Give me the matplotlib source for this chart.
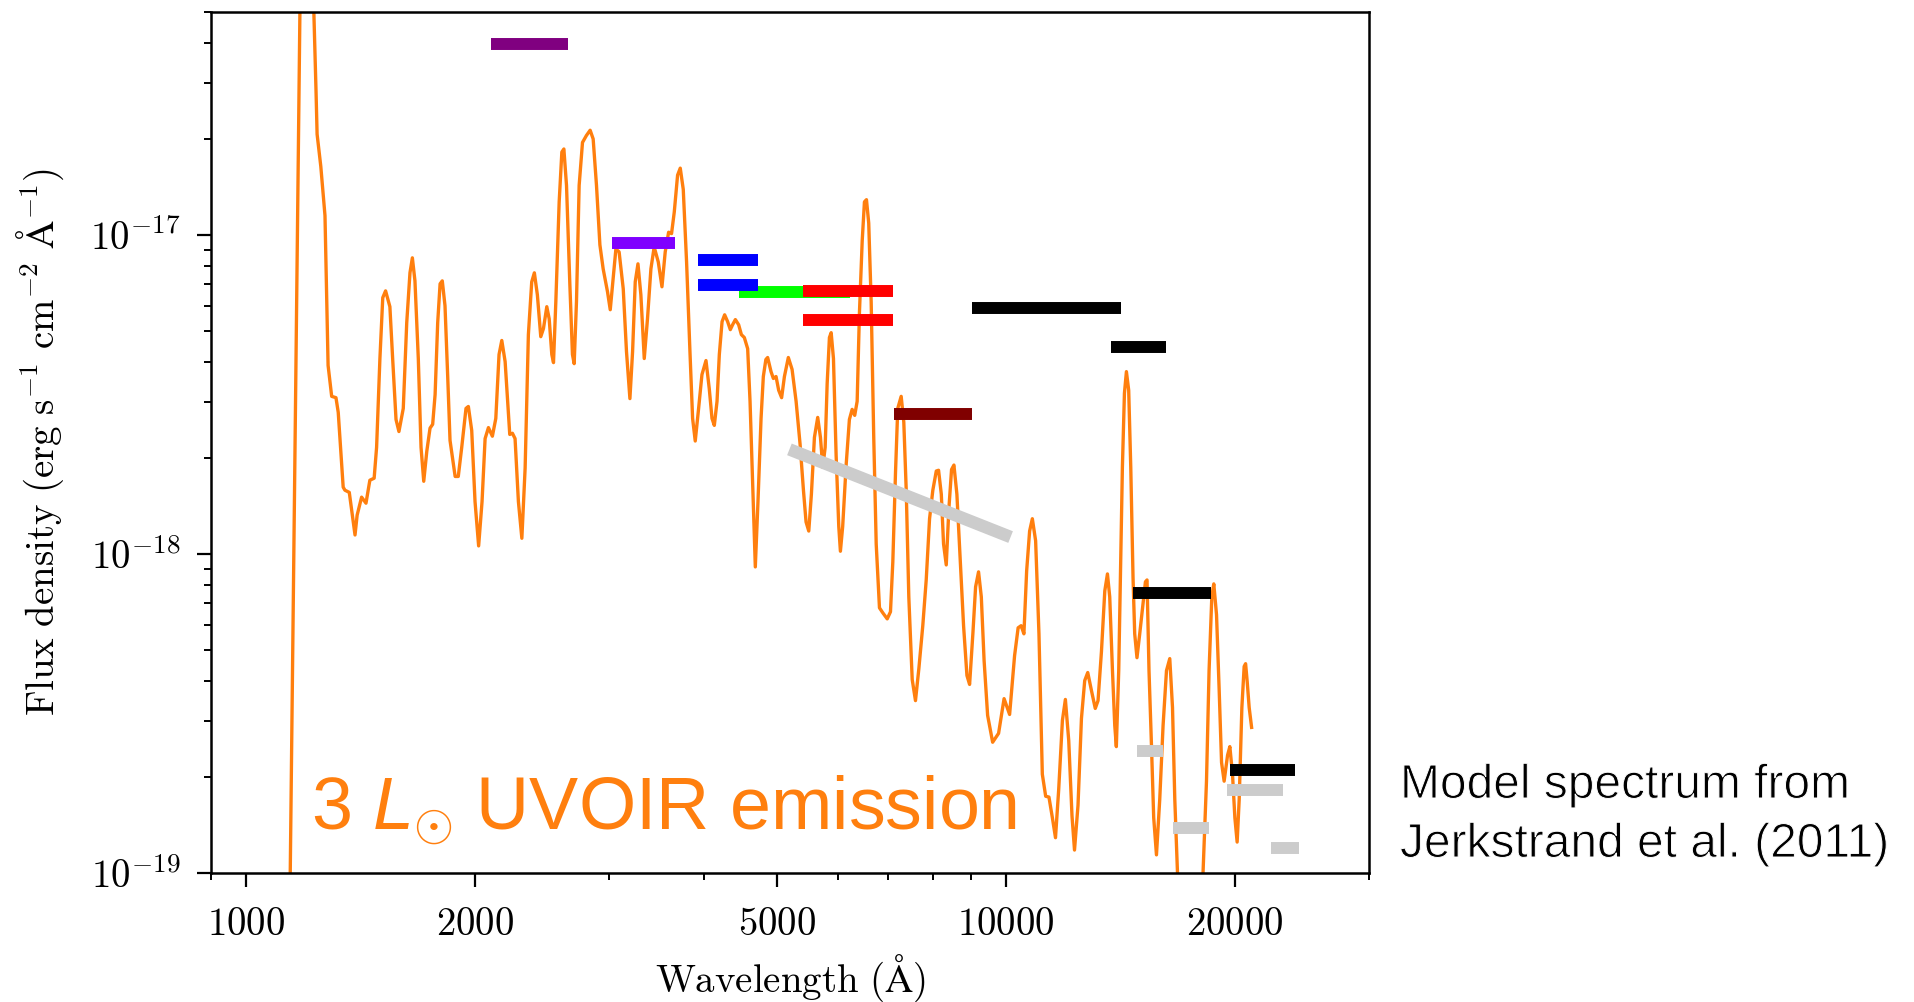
import numpy as np
import matplotlib
matplotlib.use('Agg')
import matplotlib.pyplot as plt
import matplotlib.patheffects as pe
from matplotlib.ticker import FixedLocator, FixedFormatter, LogLocator, NullFormatter

# model spectrum: wavelength (A) and flux density (1e-18 erg/s/cm2/A)
wave = [1143, 1178, 1203, 1229, 1237, 1241, 1255, 1271, 1283, 1297,
        1314, 1323, 1343, 1350, 1368, 1392, 1401, 1420, 1439, 1456,
        1475, 1486, 1501, 1514, 1527, 1547, 1560, 1576, 1590, 1611,
        1628, 1644, 1656, 1669, 1686, 1700, 1714, 1730, 1747, 1761,
        1774, 1788, 1801, 1813, 1828, 1843, 1856, 1885, 1903, 1923,
        1948, 1962, 1982, 2002, 2024, 2045, 2064, 2085, 2110, 2132,
        2153, 2171, 2193, 2224, 2242, 2260, 2283, 2307, 2330, 2353,
        2377, 2396, 2418, 2443, 2463, 2488, 2506, 2526, 2539, 2557,
        2583, 2604, 2620, 2641, 2668, 2689, 2703, 2722, 2744, 2772,
        2805, 2837, 2863, 2892, 2922, 2951, 2990, 3015, 3045, 3067,
        3097, 3136, 3167, 3200, 3226, 3252, 3279, 3308, 3342, 3375,
        3410, 3444, 3487, 3526, 3561, 3598, 3630, 3660, 3697, 3727,
        3761, 3799, 3838, 3869, 3900, 3940, 3980, 4029, 4069, 4103,
        4132, 4166, 4195, 4230, 4263, 4302, 4337, 4367, 4404, 4448,
        4485, 4525, 4571, 4604, 4640, 4678, 4716, 4760, 4793, 4830,
        4856, 4906, 4941, 4981, 5021, 5066, 5109, 5170, 5229, 5293,
        5357, 5412, 5455, 5500, 5544, 5595, 5651, 5698, 5738, 5780,
        5815, 5855, 5886, 5927, 5975, 6023, 6053, 6095, 6159, 6220,
        6272, 6321, 6368, 6412, 6466, 6510, 6550, 6595, 6644, 6696,
        6746, 6813, 6882, 6975, 7044, 7094, 7152, 7201, 7276, 7334,
        7388, 7446, 7523, 7598, 7676, 7768, 7849, 7929, 8008, 8092,
        8148, 8216, 8272, 8340, 8407, 8475, 8536, 8613, 8703, 8789,
        8879, 8951, 9042, 9115, 9197, 9274, 9353, 9453, 9598, 9772,
        9936, 10104, 10257, 10368, 10462, 10551, 10639, 10735, 10824, 10932,
        11043, 11156, 11270, 11382, 11501, 11610, 11722, 11856, 11963, 12085,
        12205, 12298, 12429, 12559, 12684, 12801, 12946, 13096, 13206, 13343,
        13479, 13588, 13682, 13796, 13892, 13959, 14060, 14145, 14217, 14305,
        14391, 14491, 14582, 14683, 14757, 14859, 14983, 15132, 15244, 15318,
        15410, 15524, 15631, 15762, 15919, 16081, 16248, 16410, 16547, 16662,
        16812, 17435, 18134, 18340, 18484, 18638, 18750, 18906, 19055, 19196,
        19347, 19549, 19684, 19844, 19986, 20124, 20250, 20414, 20556, 20646,
        20746, 20871, 21025]

flux = [0.082, 49.4, 82.3, 49.4, 28.2, 20.7, 16.4, 11.5, 3.90, 3.12,
        3.09, 2.78, 1.62, 1.585, 1.56, 1.147, 1.324, 1.507, 1.443, 1.703,
        1.728, 2.16, 4.10, 6.36, 6.68, 5.96, 4.10, 2.64, 2.42, 2.86,
        5.31, 7.61, 8.48, 7.18, 4.10, 2.16, 1.69, 2.10, 2.48, 2.55,
        3.16, 5.31, 7.03, 7.18, 6.00, 3.60, 2.27, 1.75, 1.75, 2.16,
        2.86, 2.90, 2.44, 1.46, 1.06, 1.46, 2.30, 2.49, 2.34, 2.66,
        4.22, 4.67, 4.01, 2.37, 2.39, 2.30, 1.46, 1.12, 1.86, 4.87,
        7.13, 7.61, 6.49, 4.80, 5.09, 5.96, 5.46, 4.22, 3.98, 6.18,
        12.7, 18.2, 18.6, 14.3, 6.98, 4.22, 3.95, 6.18, 14.3, 19.5,
        20.5, 21.3, 20.0, 14.3, 9.31, 7.83, 6.64, 5.83, 7.50, 9.04,
        8.85, 6.78, 4.31, 3.07, 4.31, 7.13, 8.12, 6.49, 4.10, 5.46,
        7.83, 9.17, 8.23, 6.88, 8.85, 10.2, 10.1, 11.8, 15.4, 16.2,
        13.9, 8.23, 4.31, 2.66, 2.26, 2.86, 3.65, 4.04, 3.30, 2.66,
        2.53, 3.01, 4.22, 5.35, 5.62, 5.35, 5.05, 5.23, 5.43, 5.23,
        4.87, 4.77, 4.40, 3.01, 1.66, 0.911, 1.46, 2.66, 3.60, 4.07,
        4.13, 3.73, 3.55, 3.60, 3.26, 3.09, 3.60, 4.13, 3.79, 3.01,
        2.21, 1.585, 1.26, 1.18, 1.54, 2.32, 2.68, 2.32, 1.87, 2.16,
        3.42, 4.77, 4.94, 4.10, 2.04, 1.22, 1.02, 1.22, 1.90, 2.64,
        2.84, 2.72, 3.01, 5.70, 9.58, 12.7, 12.9, 10.9, 6.18, 2.32,
        1.075, 0.678, 0.654, 0.626, 0.659, 0.944, 1.80, 2.86, 3.12, 2.59,
        1.585, 0.734, 0.404, 0.347, 0.437, 0.596, 0.829, 1.29, 1.585, 1.82,
        1.83, 1.54, 1.075, 0.924, 1.39, 1.84, 1.90, 1.54, 0.944, 0.596,
        0.416, 0.390, 0.567, 0.789, 0.879, 0.734, 0.463, 0.312, 0.257, 0.274,
        0.352, 0.314, 0.480, 0.587, 0.596, 0.562, 0.885, 1.18, 1.29, 1.10,
        0.562, 0.204, 0.174, 0.173, 0.149, 0.129, 0.182, 0.301, 0.350, 0.260,
        0.151, 0.118, 0.163, 0.305, 0.401, 0.425, 0.373, 0.328, 0.347, 0.494,
        0.766, 0.866, 0.734, 0.431, 0.290, 0.249, 0.431, 0.958, 1.87, 3.19,
        3.73, 3.26, 1.87, 0.841, 0.562, 0.473, 0.562, 0.698, 0.818, 0.829,
        0.431, 0.253, 0.149, 0.114, 0.170, 0.290, 0.431, 0.470, 0.330, 0.170,
        0.095, 0.054, 0.095, 0.194, 0.431, 0.734, 0.806, 0.645, 0.379, 0.222,
        0.194, 0.234, 0.249, 0.204, 0.149, 0.125, 0.170, 0.330, 0.444, 0.453,
        0.398, 0.330, 0.286]

# broad-band photometry: band edges (A) and flux density (1e-18)
band_lo = [2101, 3033, 4456, 3935, 3935, 5404, 5404, 7129, 9021, 13750,
           14660, 19700, 14870, 16580, 19500, 22320]
band_hi = [2653, 3671, 6224, 4714, 4714, 7098, 7098, 9021, 14168, 16210,
           18580, 24010, 16080, 18470, 23150, 24280]
band_flux = [39.6, 9.44, 6.64, 8.36, 6.98, 6.66, 5.43, 2.74, 5.91, 4.44,
             0.755, 0.211, 0.242, 0.138, 0.182, 0.120]
band_color = ['#800080', '#7f00ff', '#00ff00', '#0000ff', '#0000ff',
              '#ff0000', '#ff0000', '#800000', 'black', 'black',
              'black', 'black', '#cccccc', '#cccccc', '#cccccc', '#cccccc']

# sloped optical limit
slope_wave = [5187, 10134]
slope_flux = [2.128, 1.130]

xticks = [1000, 2000, 5000, 10000, 20000]
xticklabels = [r'$\mathrm{1000}$', r'$\mathrm{2000}$', r'$\mathrm{5000}$',
               r'$\mathrm{10000}$', r'$\mathrm{20000}$']
yticks = [1e-19, 1e-18, 1e-17]
yticklabels = [r'$\mathrm{10^{-19}}$', r'$\mathrm{10^{-18}}$', r'$\mathrm{10^{-17}}$']

plt.rcParams['mathtext.fontset'] = 'cm'
plt.rcParams['mathtext.it'] = 'Liberation Sans:italic'
plt.rcParams['mathtext.rm'] = 'Liberation Sans'

fig = plt.figure(figsize=(19.15, 10.02), dpi=100)
ax = fig.add_axes([211 / 1915, 1 - 873 / 1002, 1158 / 1915, 861 / 1002])

scale = 1e-18
ax.plot(wave, np.array(flux) * scale, color='#ff7f0e', lw=2.4, zorder=2,
        solid_joinstyle='round')

for lo, hi, f, c in zip(band_lo, band_hi, band_flux, band_color):
    ax.plot([lo, hi], [f * scale, f * scale], color=c, lw=8.6,
            solid_capstyle='butt', zorder=3)
ax.plot(slope_wave, np.array(slope_flux) * scale, color='#cccccc', lw=9,
        solid_capstyle='butt', zorder=3)

ax.set_xscale('log')
ax.set_yscale('log')
ax.set_xlim(900, 30000)
ax.set_ylim(1e-19, 5e-17)

ax.xaxis.set_major_locator(FixedLocator(xticks))
ax.xaxis.set_major_formatter(FixedFormatter(xticklabels))
ax.xaxis.set_minor_locator(LogLocator(base=10, subs=np.arange(1, 10)))
ax.xaxis.set_minor_formatter(NullFormatter())
ax.yaxis.set_major_locator(FixedLocator(yticks))
ax.yaxis.set_major_formatter(FixedFormatter(yticklabels))
ax.yaxis.set_minor_locator(LogLocator(base=10, subs=np.arange(2, 10)))
ax.yaxis.set_minor_formatter(NullFormatter())

ax.tick_params(which='major', direction='out', length=10, width=1.6,
               labelsize=28)
ax.tick_params(axis='x', which='major', pad=13)
ax.tick_params(axis='y', which='major', pad=12)
ax.tick_params(which='minor', direction='out', length=5, width=1.4)
for sp in ax.spines.values():
    sp.set_linewidth(1.8)

ax.set_xlabel(r'$\mathrm{Wavelength\ (\AA)}$', fontsize=28, labelpad=7)
ax.set_ylabel(r'$\mathrm{Flux\ density\ (erg\ s^{-1}\ cm^{-2}\ \AA^{-1})}$',
              fontsize=28, labelpad=17)

fig.text(311 / 1915, 1 - 830 / 1002, r'3 $L_{\odot}$ UVOIR emission',
         color='#ff7f0e', fontsize=53, family='Liberation Sans',
         math_fontfamily='custom', va='baseline', ha='left')

# thin white outline gives the note a lighter weight
note_fx = [pe.Stroke(linewidth=0.7, foreground='white')]
fig.text(1400 / 1915, 1 - 798 / 1002, 'Model spectrum from', fontsize=34.5,
         family='Liberation Sans', va='baseline', ha='left', path_effects=note_fx)
fig.text(1400 / 1915, 1 - 857 / 1002, 'Jerkstrand et al. (2011)', fontsize=34.5,
         family='Liberation Sans', va='baseline', ha='left', path_effects=note_fx)

fig.savefig('out.png', dpi=100)
